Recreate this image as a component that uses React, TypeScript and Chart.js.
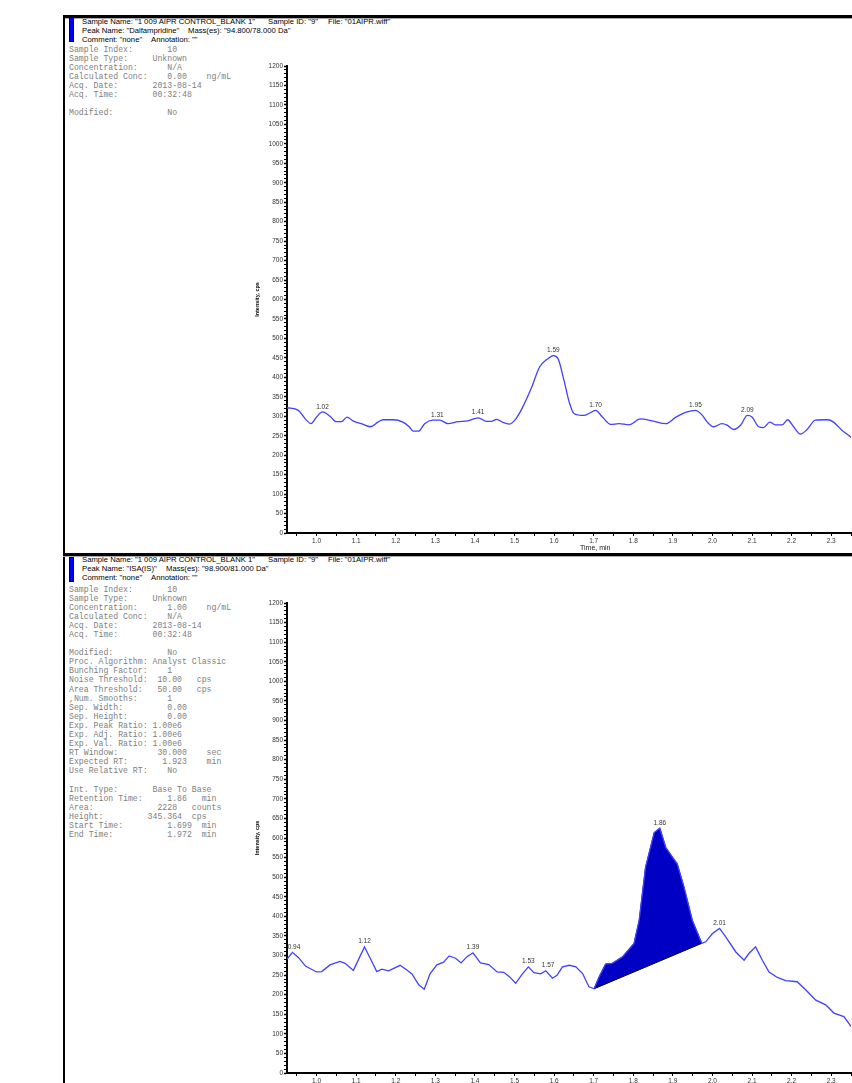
import React, { useEffect, useRef } from 'react';
import { Chart, registerables } from 'chart.js';

Chart.register(...registerables);

// ---------- Top panel: Dalfampridine trace ----------
const topTimes = [0.925, 0.954, 0.971, 0.986, 1.0, 1.015, 1.034, 1.049, 1.063, 1.077, 1.092, 1.113, 1.136, 1.155, 1.168, 1.193, 1.218, 1.234, 1.244, 1.258, 1.273, 1.294, 1.311, 1.332, 1.357, 1.382, 1.408, 1.429, 1.441, 1.455, 1.471, 1.487, 1.504, 1.521, 1.542, 1.563, 1.583, 1.598, 1.61, 1.625, 1.638, 1.65, 1.676, 1.688, 1.705, 1.722, 1.743, 1.764, 1.789, 1.818, 1.848, 1.882, 1.907, 1.936, 1.957, 1.974, 1.987, 2.003, 2.024, 2.037, 2.054, 2.071, 2.088, 2.1, 2.117, 2.129, 2.145, 2.159, 2.176, 2.19, 2.205, 2.222, 2.239, 2.26, 2.29, 2.306, 2.327, 2.352];
const topIntensity = [322, 315, 294, 281, 298, 311, 300, 286, 286, 298, 288, 281, 273, 285, 291, 291, 285, 273, 262, 262, 281, 290, 290, 281, 286, 288, 296, 287, 287, 292, 284, 280, 294, 324, 371, 426, 447, 456, 448, 392, 337, 307, 302, 307, 315, 298, 279, 281, 278, 293, 288, 281, 297, 311, 315, 303, 285, 273, 281, 277, 266, 277, 302, 298, 273, 271, 285, 278, 278, 291, 273, 254, 266, 290, 291, 285, 264, 245];
const topPeakLabels = ['1.02', '1.31', '1.41', '1.59', '1.70', '1.95', '2.09'];
const topPeakTimes = [1.015, 1.305, 1.408, 1.598, 1.705, 1.957, 2.088];
const topPeakHeights = [311, 290, 296, 456, 315, 315, 302];

// ---------- Bottom panel: ISA(IS) trace ----------
const bottomTimes = [0.925, 0.939, 0.954, 0.972, 1.0, 1.013, 1.034, 1.059, 1.072, 1.093, 1.121, 1.138, 1.152, 1.165, 1.182, 1.211, 1.228, 1.241, 1.258, 1.272, 1.287, 1.304, 1.321, 1.335, 1.351, 1.365, 1.38, 1.395, 1.414, 1.435, 1.456, 1.473, 1.487, 1.503, 1.519, 1.535, 1.549, 1.566, 1.579, 1.596, 1.608, 1.621, 1.638, 1.655, 1.672, 1.688, 1.701, 1.714, 1.73, 1.747, 1.773, 1.802, 1.815, 1.831, 1.853, 1.867, 1.882, 1.899, 1.911, 1.928, 1.949, 1.973, 1.983, 2.0, 2.018, 2.034, 2.059, 2.08, 2.092, 2.109, 2.126, 2.143, 2.164, 2.185, 2.214, 2.236, 2.261, 2.286, 2.307, 2.332, 2.35];
const bottomIntensity = [290, 308, 295, 273, 258, 259, 276, 285, 280, 262, 322, 288, 259, 265, 261, 275, 263, 253, 225, 214, 254, 276, 283, 299, 293, 281, 297, 307, 281, 277, 258, 257, 246, 229, 252, 271, 256, 253, 261, 242, 250, 271, 275, 271, 254, 220, 215, 246, 278, 280, 297, 331, 390, 525, 614, 625, 576, 551, 534, 475, 390, 331, 335, 356, 369, 347, 309, 288, 305, 322, 288, 258, 244, 236, 233, 212, 186, 174, 153, 144, 119];
const bottomPeakLabels = ['0.94', '1.12', '1.39', '1.53', '1.57', '1.86', '2.01'];
const bottomPeakTimes = [0.943, 1.121, 1.395, 1.535, 1.585, 1.867, 2.018];
const bottomPeakHeights = [308, 322, 307, 271, 261, 625, 369];
const integrationStart = 1.701;
const integrationEnd = 1.973;

// ---------- Axes ----------
const xMin = 0.9253;
const xMax = 2.3503;
const xMinorStep = 0.05;
const yMin = 0;
const yMax = 1200;
const yMinorStep = 10;
const yLabelStep = 50;

const LINE_BLUE = '#4040ff';
const FILL_BLUE = '#0000c4';

const peakLabelPlugin = {
  id: 'peakLabels',
  afterDatasetsDraw(chart: any, _args: any, opts: any) {
    const { ctx, scales } = chart;
    const xs = scales.x;
    const ys = scales.y;
    ctx.save();
    ctx.font = '6.5px "Liberation Sans", Arial, sans-serif';
    ctx.fillStyle = '#333';
    ctx.textAlign = 'center';
    ctx.textBaseline = 'bottom';
    (opts.labels || []).forEach((l: string, i: number) => {
      ctx.fillText(l, xs.getPixelForValue(opts.times[i]), ys.getPixelForValue(opts.heights[i]) - 2);
    });
    ctx.restore();
  },
};

function makeScales(): any {
  const tickFont = { family: '"Liberation Sans", Arial, sans-serif', size: 6.5 };
  return {
    x: {
      type: 'linear',
      min: xMin,
      max: xMax,
      afterBuildTicks: (axis: any) => {
        const ticks: any[] = [];
        for (let k = Math.ceil(axis.min / xMinorStep - 1e-9); k * xMinorStep <= axis.max + 1e-9; k++) {
          ticks.push({ value: +(k * xMinorStep).toFixed(2) });
        }
        axis.ticks = ticks;
      },
      ticks: {
        autoSkip: false,
        maxRotation: 0,
        minRotation: 0,
        padding: 1,
        color: '#333',
        font: tickFont,
        callback: (v: number) => (Math.abs(v * 10 - Math.round(v * 10)) < 1e-6 ? v.toFixed(1) : ''),
      },
      grid: { drawOnChartArea: false, tickLength: 3, tickColor: '#000', tickWidth: 1 },
      border: { color: '#000', width: 2 },
      afterFit: (s: any) => {
        s.height = 20;
      },
    },
    y: {
      min: yMin,
      max: yMax,
      ticks: {
        stepSize: yMinorStep,
        autoSkip: false,
        padding: 1,
        color: '#333',
        font: tickFont,
        callback: (v: number) => (v % yLabelStep === 0 ? String(v) : ''),
      },
      grid: {
        drawOnChartArea: false,
        tickLength: 3,
        tickColor: '#000',
        tickWidth: (c: any) => (c.tick && c.tick.value % yLabelStep === 0 ? 1.5 : 1),
      },
      border: { color: '#000', width: 2 },
      title: {
        display: true,
        text: 'Intensity, cps',
        color: '#000',
        font: { family: '"Liberation Sans", Arial, sans-serif', size: 5.5, weight: 'bold' },
        padding: { top: 14, bottom: 0 },
      },
      afterFit: (s: any) => {
        s.width = 47;
      },
    },
  };
}

function TopChart() {
  const ref = useRef<HTMLCanvasElement>(null);
  useEffect(() => {
    if (!ref.current) return;
    const chart = new Chart(ref.current, {
      type: 'line',
      data: {
        datasets: [
          {
            data: topTimes.map((t, i) => ({ x: t, y: topIntensity[i] })),
            borderColor: LINE_BLUE,
            borderWidth: 1.3,
            pointRadius: 0,
            tension: 0.4,
            cubicInterpolationMode: 'monotone',
            fill: false,
          },
        ],
      },
      options: {
        responsive: false,
        animation: false,
        parsing: false,
        layout: { padding: { top: 10, left: 0, right: 0, bottom: 0 } },
        plugins: {
          legend: { display: false },
          tooltip: { enabled: false },
          peakLabels: { labels: topPeakLabels, times: topPeakTimes, heights: topPeakHeights },
        } as any,
        scales: makeScales(),
      },
      plugins: [peakLabelPlugin],
    } as any);
    return () => chart.destroy();
  }, []);
  return <canvas ref={ref} width={612} height={497} style={{ position: 'absolute', left: 240, top: 56 }} />;
}

function BottomChart() {
  const ref = useRef<HTMLCanvasElement>(null);
  useEffect(() => {
    if (!ref.current) return;
    const pts = bottomTimes.map((t, i) => ({ x: t, y: bottomIntensity[i] }));
    const peakPts = pts.filter((p) => p.x >= integrationStart - 1e-9 && p.x <= integrationEnd + 1e-9);
    const baseline = [peakPts[0], peakPts[peakPts.length - 1]];
    const chart = new Chart(ref.current, {
      type: 'line',
      data: {
        datasets: [
          {
            data: pts,
            borderColor: LINE_BLUE,
            borderWidth: 1.3,
            pointRadius: 0,
            tension: 0,
            fill: false,
            order: 0,
          },
          {
            data: peakPts,
            borderColor: FILL_BLUE,
            backgroundColor: FILL_BLUE,
            borderWidth: 1,
            pointRadius: 0,
            tension: 0,
            fill: { target: 2 },
            order: 2,
          },
          {
            data: baseline,
            borderColor: '#000',
            borderWidth: 1,
            pointRadius: 0,
            fill: false,
            order: 1,
          },
        ],
      },
      options: {
        responsive: false,
        animation: false,
        parsing: false,
        layout: { padding: { top: 10, left: 0, right: 0, bottom: 0 } },
        plugins: {
          legend: { display: false },
          tooltip: { enabled: false },
          peakLabels: { labels: bottomPeakLabels, times: bottomPeakTimes, heights: bottomPeakHeights },
        } as any,
        scales: makeScales(),
      },
      plugins: [peakLabelPlugin],
    } as any);
    return () => chart.destroy();
  }, []);
  return <canvas ref={ref} width={612} height={500} style={{ position: 'absolute', left: 240, top: 593 }} />;
}

const headerStyle: React.CSSProperties = {
  position: 'absolute',
  fontFamily: '"Liberation Sans", Arial, sans-serif',
  fontSize: 7.7,
  lineHeight: '9px',
  color: '#000',
  whiteSpace: 'pre',
};

const metaStyle: React.CSSProperties = {
  position: 'absolute',
  fontFamily: '"Liberation Mono", "DejaVu Sans Mono", monospace',
  fontSize: 8.2,
  lineHeight: '9.1px',
  color: '#808080',
  whiteSpace: 'pre',
  margin: 0,
};

function Header({ top, rows }: { top: number; rows: [number, string][][] }) {
  return (
    <>
      {rows.map((row, r) =>
        row.map(([left, text], k) => (
          <div key={r + '-' + k} style={{ ...headerStyle, left, top: top + r * 9 }}>
            {text}
          </div>
        ))
      )}
    </>
  );
}

const topMeta = [
  'Sample Index:       10',
  'Sample Type:     Unknown',
  'Concentration:      N/A',
  'Calculated Conc:    0.00    ng/mL',
  'Acq. Date:       2013-08-14',
  'Acq. Time:       00:32:48',
  '',
  'Modified:           No',
].join('\n');

const bottomMeta = [
  'Sample Index:       10',
  'Sample Type:     Unknown',
  'Concentration:      1.00    ng/mL',
  'Calculated Conc:    N/A',
  'Acq. Date:       2013-08-14',
  'Acq. Time:       00:32:48',
  '',
  'Modified:           No',
  'Proc. Algorithm: Analyst Classic',
  'Bunching Factor:    1',
  'Noise Threshold:  10.00   cps',
  'Area Threshold:   50.00   cps',
  ',Num. Smooths:      1',
  'Sep. Width:         0.00',
  'Sep. Height:        0.00',
  'Exp. Peak Ratio: 1.00e6',
  'Exp. Adj. Ratio: 1.00e6',
  'Exp. Val. Ratio: 1.00e6',
  'RT Window:        30.000    sec',
  'Expected RT:       1.923    min',
  'Use Relative RT:    No',
  '',
  'Int. Type:       Base To Base',
  'Retention Time:     1.86   min',
  'Area:             2228   counts',
  'Height:         345.364  cps',
  'Start Time:         1.699  min',
  'End Time:           1.972  min',
].join('\n');

export default function App() {
  return (
    <div
      style={{
        position: 'absolute',
        left: 0,
        top: 0,
        width: 852,
        height: 1083,
        overflow: 'hidden',
        background: '#fff',
      }}
    >
      <Header
        top={16.5}
        rows={[
          [[82, 'Sample Name: "1 009 AIPR CONTROL_BLANK 1"'], [268, 'Sample ID: "9"'], [328, 'File: "01AIPR.wiff"']],
          [[82, 'Peak Name: "Dalfampridine"'], [188, 'Mass(es): "94.800/78.000 Da"']],
          [[82, 'Comment: "none"'], [151, 'Annotation: ""']],
        ]}
      />
      <Header
        top={554.5}
        rows={[
          [[82, 'Sample Name: "1 009 AIPR CONTROL_BLANK 1"'], [268, 'Sample ID: "9"'], [328, 'File: "01AIPR.wiff"']],
          [[82, 'Peak Name: "ISA(IS)"'], [166, 'Mass(es): "98.900/81.000 Da"']],
          [[82, 'Comment: "none"'], [151, 'Annotation: ""']],
        ]}
      />

      <pre style={{ ...metaStyle, left: 69, top: 44.5 }}>{topMeta}</pre>
      <pre style={{ ...metaStyle, left: 69, top: 584.5 }}>{bottomMeta}</pre>

      <TopChart />
      <BottomChart />

      <div
        style={{
          position: 'absolute',
          left: 580,
          top: 543,
          fontFamily: '"Liberation Sans", Arial, sans-serif',
          fontSize: 7,
          lineHeight: '9px',
          color: '#222',
        }}
      >
        Time, min
      </div>

      {/* frame */}
      <div style={{ position: 'absolute', left: 63, top: 15, width: 789, height: 3, background: '#000' }} />
      <div style={{ position: 'absolute', left: 63, top: 18, width: 789, height: 1, background: '#aaa' }} />
      <div style={{ position: 'absolute', left: 63, top: 15, width: 2, height: 1068, background: '#000' }} />
      <div style={{ position: 'absolute', left: 63, top: 553, width: 789, height: 3, background: '#000' }} />
      <div style={{ position: 'absolute', left: 63, top: 556, width: 789, height: 1, background: '#aaa' }} />
      <div style={{ position: 'absolute', left: 69, top: 17, width: 5, height: 25, background: '#0000ff', border: '1px solid #000', boxSizing: 'border-box' }} />
      <div style={{ position: 'absolute', left: 69, top: 557, width: 5, height: 25, background: '#0000ff', border: '1px solid #000', boxSizing: 'border-box' }} />
    </div>
  );
}
